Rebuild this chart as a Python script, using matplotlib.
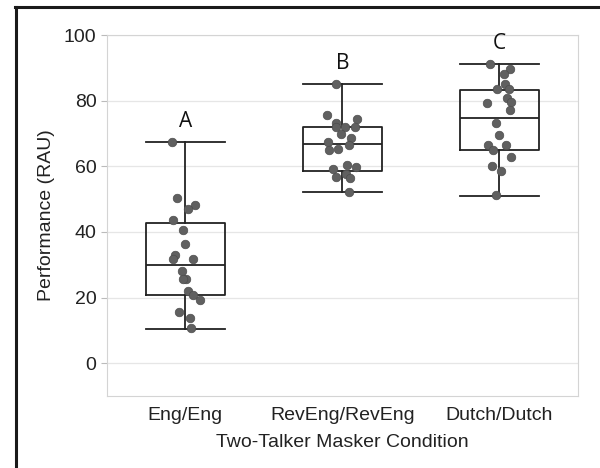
import numpy as np
import matplotlib
matplotlib.use("Agg")
import matplotlib.pyplot as plt
from matplotlib.lines import Line2D

conditions = ["Eng/Eng", "RevEng/RevEng", "Dutch/Dutch"]
letters = ["A", "B", "C"]

# individual listener scores (RAU)
eng_eng = [67.4, 50.2, 48.1, 47.1, 43.7, 40.7, 36.3, 33.0, 31.7, 31.6,
           28.1, 25.7, 25.7, 22.1, 20.8, 19.3, 15.5, 13.8, 10.6]
reveng_reveng = [85.0, 75.7, 74.5, 73.3, 72.1, 72.1, 72.1, 69.7, 68.5, 67.4,
                 66.4, 65.4, 65.1, 60.5, 59.9, 59.2, 57.8, 56.7, 56.4, 52.1]
dutch_dutch = [91.3, 89.6, 88.1, 85.2, 83.7, 83.7, 80.9, 79.7, 79.4, 77.1,
               73.1, 69.6, 66.4, 66.4, 65.1, 62.9, 60.0, 58.6, 51.2]
scores = [eng_eng, reveng_reveng, dutch_dutch]

# box summary (whisker low, Q1, median, Q3, whisker high)
whislo = [10.5, 52.1, 51.1]
q1 = [20.8, 58.6, 64.9]
med = [29.8, 66.7, 74.8]
q3 = [42.7, 72.1, 83.4]
whishi = [67.4, 85.0, 91.1]

plt.rcParams["font.family"] = ["Liberation Sans", "DejaVu Sans"]

fig = plt.figure(figsize=(6, 4.68), dpi=100)
ax = fig.add_axes([0.178, 0.154, 0.785, 0.771])

stats = [dict(whislo=a, q1=b, med=c, q3=d, whishi=e, fliers=[])
         for a, b, c, d, e in zip(whislo, q1, med, q3, whishi)]
pos = np.arange(len(conditions))
lw = 1.3
ax.bxp(stats, positions=pos, widths=0.5, showfliers=False,
       boxprops=dict(color="#222222", lw=lw),
       whiskerprops=dict(color="#222222", lw=lw),
       capprops=dict(color="#222222", lw=lw),
       medianprops=dict(color="#222222", lw=lw),
       capwidths=0.5, zorder=2)

rng = np.random.default_rng(3)
for i, vals in enumerate(scores):
    x = i + rng.uniform(-0.1, 0.1, len(vals))
    ax.scatter(x, vals, s=38, color="#606060", edgecolor="#4d4d4d",
               linewidth=0.5, zorder=3)
    ax.text(i, whishi[i] + 3.0, letters[i], ha="center", va="bottom",
            fontsize=15, color="#111111", family="Open Sans")

ax.set_xlim(-0.5, 2.5)
ax.set_ylim(-10, 100)
ax.set_yticks([0, 20, 40, 60, 80, 100])
ax.set_xticks(pos)
ax.set_xticklabels(conditions)
ax.grid(axis="y", color="#e6e6e6", lw=0.9, zorder=0)
ax.set_axisbelow(True)
for s in ax.spines.values():
    s.set_color("#d4d4d4")
ax.tick_params(axis="y", length=4, color="#bbbbbb", labelsize=14, labelcolor="#222222")
ax.tick_params(axis="x", length=0, pad=8, labelsize=14, labelcolor="#222222")
ax.set_ylabel("Performance (RAU)", fontsize=14, color="#222222", labelpad=6)
ax.set_xlabel("Two-Talker Masker Condition", fontsize=14, color="#222222", labelpad=7)

# black frame lines along the top and left edges of the figure
fig.add_artist(Line2D([0.026, 0.026], [0, 0.986], transform=fig.transFigure,
                      color="#1a1a1a", lw=2.2))
fig.add_artist(Line2D([0.025, 1.0], [0.986, 0.986], transform=fig.transFigure,
                      color="#1a1a1a", lw=2.2))

fig.savefig("out.png", dpi=100)
